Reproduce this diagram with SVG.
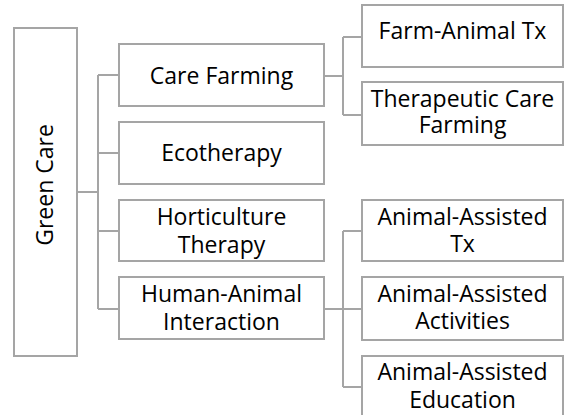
<svg xmlns="http://www.w3.org/2000/svg" width="566" height="415" viewBox="0 0 566 415">
<style>
.box{fill:#ffffff;stroke:#a5a5a5;stroke-width:2}
.ln{fill:none;stroke:#a5a5a5;stroke-width:2}
text{font-family:"Open Sans","Liberation Sans",sans-serif;font-size:23px;fill:#000000;text-anchor:middle}
</style>
<rect width="566" height="415" fill="#ffffff"/>
<g id="connectors">
<path class="ln" d="M77 192H98M98 75V309M98 75H119M98 153H119M98 231H119M98 309H119"/>
<path class="ln" d="M324 76H343M343 37V115M343 37H362M343 115H362"/>
<path class="ln" d="M324 309H343M343 231V387M343 231H362M343 309H362M343 387H362"/>
</g>
<g id="green-care">
<rect class="box" x="14" y="28" width="63" height="328"/>
<text transform="translate(53 185) rotate(-90)">Green Care</text>
</g>
<g id="care-farming">
<rect class="box" x="119" y="44" width="205" height="62"/>
<text x="221.5" y="83.5">Care Farming</text>
</g>
<g id="ecotherapy">
<rect class="box" x="119" y="122" width="205" height="62"/>
<text x="221.5" y="161">Ecotherapy</text>
</g>
<g id="horticulture-therapy">
<rect class="box" x="119" y="200" width="205" height="61"/>
<text x="221.5" y="224.5">Horticulture</text>
<text x="221.5" y="252.5">Therapy</text>
</g>
<g id="human-animal-interaction">
<rect class="box" x="119" y="277" width="205" height="62"/>
<text x="221.5" y="301.5">Human-Animal</text>
<text x="221.5" y="330">Interaction</text>
</g>
<g id="farm-animal-tx">
<rect class="box" x="362" y="5" width="201" height="62"/>
<text x="462.5" y="39">Farm-Animal Tx</text>
</g>
<g id="therapeutic-care-farming">
<rect class="box" x="362" y="82" width="201" height="63"/>
<text x="462.5" y="106.5">Therapeutic Care</text>
<text x="462.5" y="133">Farming</text>
</g>
<g id="animal-assisted-tx">
<rect class="box" x="362" y="200" width="201" height="61"/>
<text x="462.5" y="225">Animal-Assisted</text>
<text x="462.5" y="252">Tx</text>
</g>
<g id="animal-assisted-activities">
<rect class="box" x="362" y="277" width="201" height="63"/>
<text x="462.5" y="301.5">Animal-Assisted</text>
<text x="462.5" y="329">Activities</text>
</g>
<g id="animal-assisted-education">
<rect class="box" x="362" y="356" width="201" height="62"/>
<text x="462.5" y="380">Animal-Assisted</text>
<text x="462.5" y="408">Education</text>
</g>
</svg>
